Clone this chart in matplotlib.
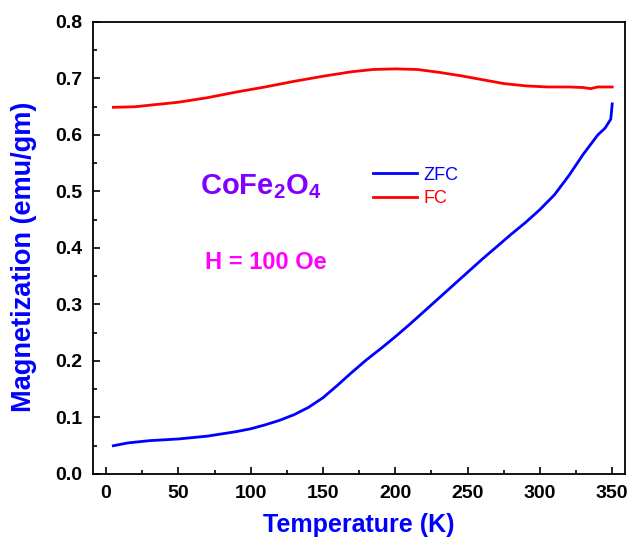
import numpy as np
import matplotlib
matplotlib.use('Agg')
import matplotlib.pyplot as plt
from matplotlib.ticker import MultipleLocator, FormatStrFormatter

# fuente tipo Arial en negrita para todo
plt.rcParams['font.family'] = ['Liberation Sans', 'DejaVu Sans']
plt.rcParams['mathtext.fontset'] = 'custom'
plt.rcParams['mathtext.rm'] = 'Liberation Sans:bold'
plt.rcParams['mathtext.bf'] = 'Liberation Sans:bold'

# curva ZFC (temperatura en K, magnetizacion en emu/gm)
t_zfc = [5, 15, 30, 50, 70, 90, 100, 110, 120, 130, 140, 150, 160, 170, 180,
         190, 200, 210, 220, 230, 240, 250, 260, 270, 280, 290, 300, 310,
         320, 330, 340, 345, 349, 350]
m_zfc = [0.050, 0.055, 0.059, 0.062, 0.067, 0.075, 0.080, 0.087, 0.095, 0.105,
         0.118, 0.135, 0.157, 0.180, 0.202, 0.222, 0.243, 0.265, 0.288, 0.311,
         0.334, 0.357, 0.380, 0.402, 0.424, 0.445, 0.468, 0.494, 0.528, 0.566,
         0.600, 0.612, 0.628, 0.655]

# curva FC
t_fc = [5, 20, 35, 50, 70, 90, 110, 130, 150, 170, 185, 200, 215, 230, 245,
        260, 275, 290, 305, 320, 330, 335, 340, 350]
m_fc = [0.649, 0.650, 0.654, 0.658, 0.666, 0.676, 0.685, 0.695, 0.704, 0.712,
        0.716, 0.717, 0.716, 0.711, 0.705, 0.698, 0.691, 0.687, 0.685, 0.685,
        0.684, 0.682, 0.685, 0.685]

fig = plt.figure(figsize=(6.29, 5.39), dpi=100)
ax = fig.add_axes([0.148, 0.1206, 0.846, 0.8386])

ax.plot(t_zfc, m_zfc, color='#0000FF', lw=2, label='ZFC')
ax.plot(t_fc, m_fc, color='#FF0000', lw=2, label='FC')

ax.set_xlim(-9, 359)
ax.set_ylim(0.0, 0.8)
ax.xaxis.set_major_locator(MultipleLocator(50))
ax.xaxis.set_minor_locator(MultipleLocator(25))
ax.yaxis.set_major_locator(MultipleLocator(0.1))
ax.yaxis.set_minor_locator(MultipleLocator(0.05))
ax.yaxis.set_major_formatter(FormatStrFormatter('%.1f'))

ax.tick_params(which='both', direction='in', top=False, right=False,
               width=1.2, labelsize=14)
ax.tick_params(which='major', length=5, pad=8)
ax.tick_params(which='minor', length=3)
for lab in ax.get_xticklabels() + ax.get_yticklabels():
    lab.set_fontweight('bold')
for s in ax.spines.values():
    s.set_linewidth(1.3)

ax.set_xlabel('Temperature (K)', color='#0000FF', fontsize=18,
              fontweight='bold', labelpad=8)
ax.set_ylabel('Magnetization (emu/gm)', color='#0000FF', fontsize=19.5,
              fontweight='bold')
ax.yaxis.set_label_coords(-0.105, 0.48)

ax.text(0.200, 0.635, r'$\mathbf{CoFe_2O_4}$', transform=ax.transAxes,
        color='#8000FF', fontsize=21, va='center')
ax.text(0.21, 0.467, 'H = 100 Oe', transform=ax.transAxes,
        color='#FF00FF', fontsize=17, fontweight='bold', va='center')

leg = ax.legend(loc='upper left', bbox_to_anchor=(0.4955, 0.716), frameon=False,
                fontsize=13, handlelength=2.44, handletextpad=0.33,
                labelspacing=0.35)
for txt, c in zip(leg.get_texts(), ['#0000FF', '#FF0000']):
    txt.set_color(c)

fig.savefig('out.png', dpi=100)
